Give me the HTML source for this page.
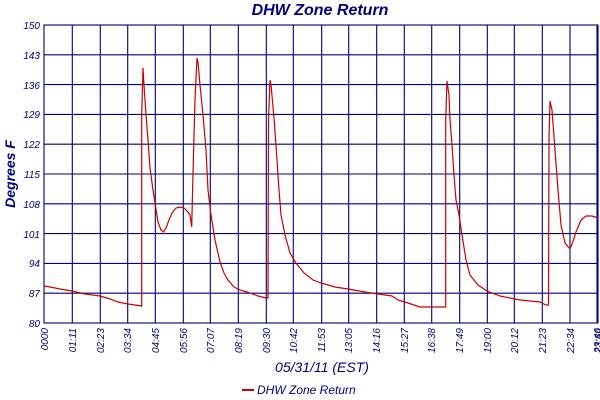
<!DOCTYPE html>
<html><head><meta charset="utf-8"><style>
html,body{margin:0;padding:0;background:#fff;}
svg{display:block;}
text{font-family:"Liberation Sans",sans-serif;font-style:italic;fill:#000080;}
</style></head><body>
<svg width="600" height="400" viewBox="0 0 600 400" xmlns="http://www.w3.org/2000/svg">
<text x="320" y="15" text-anchor="middle" font-size="16" font-weight="bold">DHW Zone Return</text>
<g stroke="#000080" stroke-width="1.1" fill="none">
<rect x="44" y="25" width="554" height="298"/>
<line x1="44" x2="598" y1="54.8" y2="54.8"/><line x1="44" x2="598" y1="84.6" y2="84.6"/>
<line x1="44" x2="598" y1="114.4" y2="114.4"/><line x1="44" x2="598" y1="144.2" y2="144.2"/>
<line x1="44" x2="598" y1="174" y2="174"/><line x1="44" x2="598" y1="203.8" y2="203.8"/>
<line x1="44" x2="598" y1="233.6" y2="233.6"/><line x1="44" x2="598" y1="263.4" y2="263.4"/>
<line x1="44" x2="598" y1="293.2" y2="293.2"/>
<path d="M72.3 25V323M100.3 25V323M127.7 25V323M155.3 25V323M183.3 25V323M210.3 25V323M238.3 25V323M266.3 25V323M293.3 25V323M321.7 25V323M348.7 25V323M376.7 25V323M404.3 25V323M431.7 25V323M459.7 25V323M487.3 25V323M514.3 25V323M542.3 25V323M570 25V323M597 25V323"/>
</g>
<polyline fill="none" stroke="#cc0000" stroke-width="1.2" points="44,286 50,287 60,289 72,291 85,294 100,296 110,299 118,302 128,304 135,305 141.7,306 141.7,115 143,68 144,85 146,115 148,140 150,168 153,190 155,203 158,222 161,230 163.6,232 166,228 169,220 172,213 176,208 180,207 184,208 188,212 190,215 191.7,227 193,173 195,100 197,58 198,62 200,85 203,115 206,150 208,190 211,215 215,240 220,262 224,273 228,280 234,287 240,290 250,293 258,296 266,298 268,298 268.5,120 270,80 271,85 274,118 277,160 279,190 281,215 285,235 290,253 296,263 304,273 313,280 321,283 335,287 348,289 365,292 385,295 392,296 398,300 408,303 420,307 445.7,307 445.7,120 447,81 449,95 450,120 452,145 454,175 456,200 459,215 462,235 466,260 470,275 478,285 487,291 500,296 520,300 540,302 546,305 548.5,305 549,140 550,101 552,110 555,150 558,190 561,225 565,243 569,248 571,247 576,232 581,220 586,216 592,216 598,218"/>
<g font-size="10" text-anchor="end">
<text x="40" y="29">150</text><text x="40" y="59">143</text><text x="40" y="89">136</text>
<text x="40" y="118">129</text><text x="40" y="148">122</text><text x="40" y="178">115</text>
<text x="40" y="208">108</text><text x="40" y="238">101</text><text x="40" y="267">94</text>
<text x="40" y="297">87</text><text x="40" y="327">80</text>
</g>
<g font-size="10" text-anchor="end">
<text transform="translate(48,328) rotate(-90)">0000</text>
<text transform="translate(76,328) rotate(-90)">01:11</text>
<text transform="translate(104,328) rotate(-90)">02:23</text>
<text transform="translate(131,328) rotate(-90)">03:34</text>
<text transform="translate(159,328) rotate(-90)">04:45</text>
<text transform="translate(187,328) rotate(-90)">05:56</text>
<text transform="translate(214,328) rotate(-90)">07:07</text>
<text transform="translate(242,328) rotate(-90)">08:19</text>
<text transform="translate(270,328) rotate(-90)">09:30</text>
<text transform="translate(297,328) rotate(-90)">10:42</text>
<text transform="translate(325,328) rotate(-90)">11:53</text>
<text transform="translate(352,328) rotate(-90)">13:05</text>
<text transform="translate(380,328) rotate(-90)">14:16</text>
<text transform="translate(408,328) rotate(-90)">15:27</text>
<text transform="translate(435,328) rotate(-90)">16:38</text>
<text transform="translate(463,328) rotate(-90)">17:49</text>
<text transform="translate(491,328) rotate(-90)">19:00</text>
<text transform="translate(518,328) rotate(-90)">20:12</text>
<text transform="translate(546,328) rotate(-90)">21:23</text>
<text transform="translate(574,328) rotate(-90)">22:34</text>
<text transform="translate(601,328) rotate(-90)">23:46</text>
<text transform="translate(602,328) rotate(-90)">23:59</text>
</g>
<text x="322" y="372" text-anchor="middle" font-size="14">05/31/11 (EST)</text>
<text transform="translate(15,174) rotate(-90)" text-anchor="middle" font-size="14" font-weight="bold" font-family="Liberation Serif">Degrees F</text>
<line x1="242" x2="254" y1="390" y2="390" stroke="#cc0000" stroke-width="2"/>
<text x="257" y="394" font-size="12">DHW Zone Return</text>
</svg>
</body></html>
